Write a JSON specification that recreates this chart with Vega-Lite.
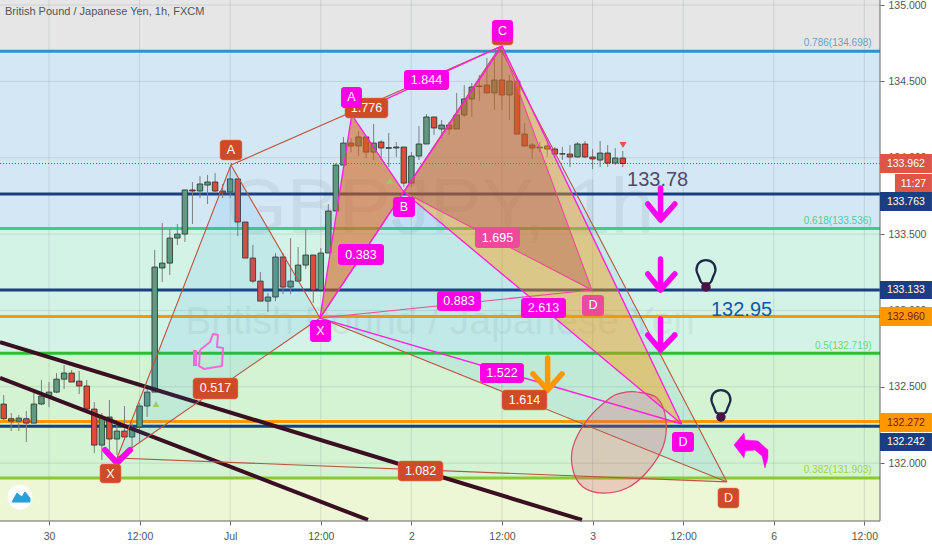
{"$schema":"https://vega.github.io/schema/vega-lite/v6.json","width":880,"height":521,"autosize":"none","padding":{"left":0,"top":0,"right":52,"bottom":29},"background":"#ffffff","config":{"view":{"stroke":null},"text":{"font":"Liberation Sans"}},
"encoding":{"x":{"field":"h","type":"quantitative","title":null,"scale":{"domain":[-6.49,110.07],"nice":false,"zero":false,"padding":0},"axis":{"values":[0,12,24,36,48,60,72,84,96,108],"grid":false,"domain":false,"labelExpr":"datum.value==0?'30':datum.value==24?'Jul':datum.value==48?'2':datum.value==72?'3':datum.value==96?'6':'12:00'","labelFont":"Liberation Sans","labelFontSize":10.5,"labelColor":"#555555","tickColor":"#666666","tickSize":4,"labelPadding":6,"labelOverlap":false}},"y":{"field":"p","type":"quantitative","title":null,"scale":{"domain":[131.621,135.033],"nice":false,"zero":false,"padding":0},"axis":{"orient":"right","values":[132,132.5,133,133.5,134,134.5,135],"format":".3f","grid":false,"domain":false,"labelFont":"Liberation Sans","labelFontSize":10.5,"labelColor":"#555555","tickColor":"#666666","tickSize":4,"labelPadding":4,"labelOverlap":false}}},
"layer":[
{"data":{"values":[{"h":-6.49,"h2":110.07,"p":135.033,"p2":134.698}]},"mark":{"type":"rect","fill":"#e6e6e6"},"encoding":{"x2":{"field":"h2"},"y2":{"field":"p2"}}},
{"data":{"values":[{"h":-6.49,"h2":110.07,"p":134.698,"p2":133.536}]},"mark":{"type":"rect","fill":"#d3e8f4"},"encoding":{"x2":{"field":"h2"},"y2":{"field":"p2"}}},
{"data":{"values":[{"h":-6.49,"h2":110.07,"p":133.536,"p2":132.719}]},"mark":{"type":"rect","fill":"#d4f3e7"},"encoding":{"x2":{"field":"h2"},"y2":{"field":"p2"}}},
{"data":{"values":[{"h":-6.49,"h2":110.07,"p":132.719,"p2":131.903}]},"mark":{"type":"rect","fill":"#d3f3d3"},"encoding":{"x2":{"field":"h2"},"y2":{"field":"p2"}}},
{"data":{"values":[{"h":-6.49,"h2":110.07,"p":131.903,"p2":131.621}]},"mark":{"type":"rect","fill":"#edf6d5"},"encoding":{"x2":{"field":"h2"},"y2":{"field":"p2"}}},
{"data":{"values":[{"h":-6.49,"h2":110.07,"p":135},{"h":-6.49,"h2":110.07,"p":134.5},{"h":-6.49,"h2":110.07,"p":134},{"h":-6.49,"h2":110.07,"p":133.5},{"h":-6.49,"h2":110.07,"p":133},{"h":-6.49,"h2":110.07,"p":132.5},{"h":-6.49,"h2":110.07,"p":132}]},"mark":{"type":"rule","stroke":"#6f8088","strokeOpacity":0.2,"strokeWidth":1},"encoding":{"x2":{"field":"h2"}}},
{"data":{"values":[{"h":0,"p":135.033,"p2":131.621},{"h":12,"p":135.033,"p2":131.621},{"h":24,"p":135.033,"p2":131.621},{"h":36,"p":135.033,"p2":131.621},{"h":48,"p":135.033,"p2":131.621},{"h":60,"p":135.033,"p2":131.621},{"h":72,"p":135.033,"p2":131.621},{"h":84,"p":135.033,"p2":131.621},{"h":96,"p":135.033,"p2":131.621},{"h":108,"p":135.033,"p2":131.621}]},"mark":{"type":"rule","stroke":"#6f8088","strokeOpacity":0.2,"strokeWidth":1},"encoding":{"y2":{"field":"p2"}}},
{"data":{"values":[{"h":51.8,"p":133.658,"t":"GBPJPY, 1h"}]},"mark":{"type":"text","font":"Liberation Sans","fontSize":78,"fill":"#50606a","opacity":0.09,"align":"center","baseline":"middle"},"encoding":{"text":{"field":"t"}}},
{"data":{"values":[{"h":51.8,"p":132.924,"t":"British Pound / Japanese Yen"}]},"mark":{"type":"text","font":"Liberation Sans","fontSize":39,"fill":"#50606a","opacity":0.08,"align":"center","baseline":"middle"},"encoding":{"text":{"field":"t"}}},
{"data":{"values":[{"h":-6.49,"h2":110.07,"p":134.698}]},"mark":{"type":"rule","stroke":"#2f93c6","strokeWidth":3},"encoding":{"x2":{"field":"h2"}}},
{"data":{"values":[{"h":-6.49,"h2":110.07,"p":133.536}]},"mark":{"type":"rule","stroke":"#3ecf78","strokeWidth":3},"encoding":{"x2":{"field":"h2"}}},
{"data":{"values":[{"h":-6.49,"h2":110.07,"p":132.719}]},"mark":{"type":"rule","stroke":"#2bc02b","strokeWidth":3},"encoding":{"x2":{"field":"h2"}}},
{"data":{"values":[{"h":-6.49,"h2":110.07,"p":131.903}]},"mark":{"type":"rule","stroke":"#8cc832","strokeWidth":3},"encoding":{"x2":{"field":"h2"}}},
{"data":{"values":[{"h":-6.49,"h2":110.07,"p":132.96},{"h":-6.49,"h2":110.07,"p":132.272}]},"mark":{"type":"rule","stroke":"#ff9800","strokeWidth":3},"encoding":{"x2":{"field":"h2"}}},
{"data":{"values":[{"h":-6.49,"h2":110.07,"p":133.763},{"h":-6.49,"h2":110.07,"p":133.133},{"h":-6.49,"h2":110.07,"p":132.242}]},"mark":{"type":"rule","stroke":"#1a3f80","strokeWidth":3},"encoding":{"x2":{"field":"h2"}}},
{"data":{"values":[{"h":-6.49,"h2":110.07,"p":133.962}]},"mark":{"type":"rule","stroke":"#c0392b","strokeWidth":1,"strokeDash":[1,2]},"encoding":{"x2":{"field":"h2"}}},
{"data":{"name":"candles","values":[
{"h":-6,"o":132.387,"c":132.291,"p":132.446,"p2":132.282},{"h":-5,"o":132.291,"c":132.275,"p":132.328,"p2":132.21},{"h":-4,"o":132.275,"c":132.295,"p":132.315,"p2":132.21},{"h":-3,"o":132.291,"c":132.262,"p":132.341,"p2":132.138},{"h":-2,"o":132.262,"c":132.387,"p":132.479,"p2":132.262},{"h":-1,"o":132.387,"c":132.439,"p":132.544,"p2":132.38},{"h":0,"o":132.439,"c":132.465,"p":132.531,"p2":132.367},{"h":1,"o":132.465,"c":132.55,"p":132.59,"p2":132.459},{"h":2,"o":132.55,"c":132.59,"p":132.642,"p2":132.485},{"h":3,"o":132.59,"c":132.531,"p":132.61,"p2":132.531},{"h":4,"o":132.537,"c":132.505,"p":132.603,"p2":132.452},{"h":5,"o":132.505,"c":132.354,"p":132.544,"p2":132.334},{"h":6,"o":132.354,"c":132.118,"p":132.4,"p2":132.066},{"h":7,"o":132.118,"c":132.302,"p":132.328,"p2":132.02},{"h":8,"o":132.302,"c":132.158,"p":132.413,"p2":132.072},{"h":9,"o":132.158,"c":132.21,"p":132.282,"p2":132.053},{"h":10,"o":132.21,"c":132.171,"p":132.374,"p2":132.151},{"h":11,"o":132.171,"c":132.236,"p":132.262,"p2":132.105},{"h":12,"o":132.236,"c":132.374,"p":132.393,"p2":132.131},{"h":13,"o":132.374,"c":132.465,"p":132.511,"p2":132.302},{"h":14,"o":132.465,"c":133.284,"p":133.396,"p2":132.465},{"h":15,"o":133.278,"c":133.31,"p":133.572,"p2":133.186},{"h":16,"o":133.31,"c":133.474,"p":133.533,"p2":133.232},{"h":17,"o":133.474,"c":133.5,"p":133.566,"p2":133.428},{"h":18,"o":133.5,"c":133.789,"p":133.789,"p2":133.448},{"h":19,"o":133.789,"c":133.782,"p":133.841,"p2":133.566},{"h":20,"o":133.782,"c":133.828,"p":133.88,"p2":133.736},{"h":21,"o":133.821,"c":133.841,"p":133.887,"p2":133.697},{"h":22,"o":133.841,"c":133.782,"p":133.9,"p2":133.775},{"h":23,"o":133.782,"c":133.769,"p":133.828,"p2":133.736},{"h":24,"o":133.775,"c":133.861,"p":133.939,"p2":133.736},{"h":25,"o":133.861,"c":133.579,"p":133.861,"p2":133.487},{"h":26,"o":133.579,"c":133.343,"p":133.579,"p2":133.343},{"h":27,"o":133.343,"c":133.192,"p":133.428,"p2":133.179},{"h":28,"o":133.192,"c":133.061,"p":133.251,"p2":133.061},{"h":29,"o":133.061,"c":133.088,"p":133.114,"p2":132.989},{"h":30,"o":133.088,"c":133.35,"p":133.376,"p2":133.061},{"h":31,"o":133.35,"c":133.153,"p":133.376,"p2":133.107},{"h":32,"o":133.153,"c":133.192,"p":133.474,"p2":133.107},{"h":33,"o":133.192,"c":133.297,"p":133.415,"p2":133.186},{"h":34,"o":133.297,"c":133.363,"p":133.533,"p2":133.271},{"h":35,"o":133.363,"c":133.133,"p":133.363,"p2":133.048},{"h":36,"o":133.133,"c":133.376,"p":133.409,"p2":133.133},{"h":37,"o":133.376,"c":133.651,"p":133.697,"p2":133.376},{"h":38,"o":133.651,"c":133.952,"p":133.965,"p2":133.651},{"h":39,"o":133.952,"c":134.096,"p":134.136,"p2":133.952},{"h":40,"o":134.096,"c":134.077,"p":134.129,"p2":134.037},{"h":41,"o":134.077,"c":134.136,"p":134.175,"p2":134.011},{"h":42,"o":134.136,"c":134.037,"p":134.136,"p2":133.998},{"h":43,"o":134.037,"c":134.096,"p":134.221,"p2":133.985},{"h":44,"o":134.103,"c":134.064,"p":134.116,"p2":133.985},{"h":45,"o":134.066,"c":134.062,"p":134.162,"p2":133.939},{"h":46,"o":134.07,"c":134.064,"p":134.103,"p2":134.005},{"h":47,"o":134.07,"c":133.834,"p":134.07,"p2":133.808},{"h":48,"o":133.834,"c":134.011,"p":134.037,"p2":133.808},{"h":49,"o":134.011,"c":134.09,"p":134.208,"p2":133.985},{"h":50,"o":134.09,"c":134.267,"p":134.286,"p2":134.09},{"h":51,"o":134.267,"c":134.195,"p":134.267,"p2":134.149},{"h":52,"o":134.188,"c":134.214,"p":134.247,"p2":134.129},{"h":53,"o":134.214,"c":134.188,"p":134.234,"p2":134.149},{"h":54,"o":134.188,"c":134.28,"p":134.424,"p2":134.188},{"h":55,"o":134.28,"c":134.385,"p":134.476,"p2":134.267},{"h":56,"o":134.385,"c":134.463,"p":134.489,"p2":134.267},{"h":57,"o":134.47,"c":134.466,"p":134.542,"p2":134.371},{"h":58,"o":134.476,"c":134.424,"p":134.653,"p2":134.424},{"h":59,"o":134.424,"c":134.509,"p":134.653,"p2":134.313},{"h":60,"o":134.509,"c":134.411,"p":134.706,"p2":134.313},{"h":61,"o":134.411,"c":134.502,"p":134.542,"p2":134.247},{"h":62,"o":134.502,"c":134.155,"p":134.502,"p2":134.155},{"h":63,"o":134.155,"c":134.077,"p":134.227,"p2":134.07},{"h":64,"o":134.083,"c":134.064,"p":134.096,"p2":133.992},{"h":65,"o":134.064,"c":134.07,"p":134.103,"p2":134.037},{"h":66,"o":134.077,"c":134.057,"p":134.096,"p2":134.005},{"h":67,"o":134.057,"c":134.024,"p":134.07,"p2":134.005},{"h":68,"o":134.024,"c":134.026,"p":134.07,"p2":133.985},{"h":69,"o":134.024,"c":134.005,"p":134.083,"p2":133.939},{"h":70,"o":134.005,"c":134.09,"p":134.103,"p2":133.998},{"h":71,"o":134.09,"c":134.005,"p":134.109,"p2":133.998},{"h":72,"o":134.005,"c":133.992,"p":134.057,"p2":133.926},{"h":73,"o":133.985,"c":134.031,"p":134.109,"p2":133.939},{"h":74,"o":134.031,"c":133.965,"p":134.083,"p2":133.939},{"h":75,"o":133.965,"c":133.998,"p":134.063,"p2":133.952},{"h":76,"o":133.998,"c":133.962,"p":134.044,"p2":133.939}]},"mark":{"type":"rule","stroke":"#7d7d7d","strokeWidth":1},"encoding":{"y2":{"field":"p2"}}},
{"data":{"name":"candles"},"mark":{"type":"bar","size":5.5,"stroke":"#26302c","strokeWidth":0.8},"encoding":{"y":{"field":"o","type":"quantitative","title":null,"scale":{"domain":[131.621,135.033],"nice":false,"zero":false,"padding":0}},"y2":{"field":"c"},"color":{"condition":{"test":"datum.c<datum.o","value":"#e04a3a"},"value":"#5f9a80"}}},
{"data":{"values":[{"i":0,"h":-6.49,"p":132.793},{"i":1,"h":70.6,"p":131.628}]},"mark":{"type":"line","stroke":"#3a0f22","strokeWidth":4},"encoding":{"order":{"field":"i"}}},
{"data":{"values":[{"i":0,"h":-6.49,"p":132.558},{"i":1,"h":42.25,"p":131.628}]},"mark":{"type":"line","stroke":"#3a0f22","strokeWidth":4},"encoding":{"order":{"field":"i"}}},
{"data":{"values":[{"i":0,"h":9.01,"p":132.034},{"i":1,"h":24.1,"p":133.952},{"i":2,"h":35.9,"p":132.95},{"i":3,"h":9.01,"p":132.034}]},"mark":{"type":"line","fill":"#2196f3","fillOpacity":0.1,"strokeWidth":0},"encoding":{"order":{"field":"i"}}},
{"data":{"values":[{"i":0,"h":35.9,"p":132.95},{"i":1,"h":59.7,"p":134.725},{"i":2,"h":89.8,"p":131.877},{"i":3,"h":35.9,"p":132.95}]},"mark":{"type":"line","fill":"#2196f3","fillOpacity":0.1,"strokeWidth":0},"encoding":{"order":{"field":"i"}}},
{"data":{"values":[{"i":0,"h":35.9,"p":132.95},{"i":1,"h":40.1,"p":134.28},{"i":2,"h":47,"p":133.776},{"i":3,"h":35.9,"p":132.95}]},"mark":{"type":"line","fill":"#ff9800","fillOpacity":0.42,"strokeWidth":0},"encoding":{"order":{"field":"i"}}},
{"data":{"values":[{"i":0,"h":47,"p":133.776},{"i":1,"h":60,"p":134.732},{"i":2,"h":83.8,"p":132.256},{"i":3,"h":47,"p":133.776}]},"mark":{"type":"line","fill":"#ff9800","fillOpacity":0.42,"strokeWidth":0},"encoding":{"order":{"field":"i"}}},
{"data":{"values":[{"i":0,"h":35.9,"p":132.95},{"i":1,"h":40.1,"p":134.28},{"i":2,"h":47,"p":133.776},{"i":3,"h":35.9,"p":132.95}]},"mark":{"type":"line","fill":"#a5283a","fillOpacity":0.28,"strokeWidth":0},"encoding":{"order":{"field":"i"}}},
{"data":{"values":[{"i":0,"h":47,"p":133.776},{"i":1,"h":60,"p":134.732},{"i":2,"h":71.9,"p":133.134},{"i":3,"h":47,"p":133.776}]},"mark":{"type":"line","fill":"#a5283a","fillOpacity":0.28,"strokeWidth":0},"encoding":{"order":{"field":"i"}}},
{"data":{"values":[{"i":0,"h":77.88,"p":132.466},{"i":1,"h":80.53,"p":132.427},{"i":2,"h":81.72,"p":132.282},{"i":3,"h":81.32,"p":132.106},{"i":4,"h":79.2,"p":131.942},{"i":5,"h":76.56,"p":131.837},{"i":6,"h":73.38,"p":131.804},{"i":7,"h":70.73,"p":131.844},{"i":8,"h":69.4,"p":131.955},{"i":9,"h":69.4,"p":132.106},{"i":10,"h":71.26,"p":132.282},{"i":11,"h":74.3,"p":132.427},{"i":12,"h":75.9,"p":132.46}]},"mark":{"type":"line","interpolate":"cardinal-closed","fill":"#e0506a","fillOpacity":0.25,"stroke":"#d8486a","strokeWidth":1.2},"encoding":{"order":{"field":"i"}}},
{"data":{"values":[{"i":0,"h":9.01,"p":132.034},{"i":1,"h":24.1,"p":133.952},{"i":2,"h":35.9,"p":132.95},{"i":3,"h":9.01,"p":132.034},{"i":4,"h":89.8,"p":131.877},{"i":5,"h":35.9,"p":132.95},{"i":6,"h":59.7,"p":134.725},{"i":7,"h":89.8,"p":131.877},{"i":8,"h":59.7,"p":134.725},{"i":9,"h":24.1,"p":133.952}]},"mark":{"type":"line","stroke":"#bb5540","strokeWidth":1.1},"encoding":{"order":{"field":"i"}}},
{"data":{"values":[{"i":0,"h":35.9,"p":132.95},{"i":1,"h":71.9,"p":133.134},{"i":2,"h":47,"p":133.776},{"i":3,"h":60,"p":134.732},{"i":4,"h":71.9,"p":133.134}]},"mark":{"type":"line","stroke":"#ec4b9a","strokeWidth":1.1},"encoding":{"order":{"field":"i"}}},
{"data":{"values":[{"i":0,"h":35.9,"p":132.95},{"i":1,"h":40.1,"p":134.28},{"i":2,"h":47,"p":133.776},{"i":3,"h":35.9,"p":132.95},{"i":4,"h":83.8,"p":132.256},{"i":5,"h":47,"p":133.776},{"i":6,"h":60,"p":134.732},{"i":7,"h":83.8,"p":132.256},{"i":8,"h":60,"p":134.732},{"i":9,"h":40.1,"p":134.28}]},"mark":{"type":"line","stroke":"#ff22dd","strokeWidth":1.4},"encoding":{"order":{"field":"i"}}},
{"data":{"values":[{"h":-6.49,"h2":110.07,"p":131.621}]},"mark":{"type":"rule","stroke":"#666666","strokeWidth":1},"encoding":{"x2":{"field":"h2"}}},
{"data":{"values":[{"h":110.07,"p":135.033,"p2":131.621}]},"mark":{"type":"rule","stroke":"#666666","strokeWidth":1},"encoding":{"y2":{"field":"p2"}}},
{"data":{"values":[{"a":"1","i":0,"h":81,"p":133.802},{"a":"1","i":1,"h":81,"p":133.592},{"a":"1","i":2,"h":79.3,"p":133.697},{"a":"1","i":3,"h":81,"p":133.592},{"a":"1","i":4,"h":82.9,"p":133.697},{"a":"2","i":0,"h":81,"p":133.337},{"a":"2","i":1,"h":81,"p":133.134},{"a":"2","i":2,"h":79.3,"p":133.239},{"a":"2","i":3,"h":81,"p":133.134},{"a":"2","i":4,"h":82.9,"p":133.239},{"a":"3","i":0,"h":81,"p":132.944},{"a":"3","i":1,"h":81,"p":132.741},{"a":"3","i":2,"h":79.3,"p":132.839},{"a":"3","i":3,"h":81,"p":132.741},{"a":"3","i":4,"h":82.9,"p":132.839}]},"mark":{"type":"line","stroke":"#ff00ee","strokeWidth":5.5,"strokeCap":"round","strokeJoin":"round"},"encoding":{"detail":{"field":"a"},"order":{"field":"i"}}},
{"data":{"values":[{"i":0,"h":66.05,"p":132.689},{"i":1,"h":66.05,"p":132.479},{"i":2,"h":64.1,"p":132.584},{"i":3,"h":66.05,"p":132.479},{"i":4,"h":67.95,"p":132.584}]},"mark":{"type":"line","stroke":"#ff9800","strokeWidth":5.5,"strokeCap":"round","strokeJoin":"round"},"encoding":{"order":{"field":"i"}}},
{"data":{"values":[{"i":0,"h":7.42,"p":132.086},{"i":1,"h":9.01,"p":132.001},{"i":2,"h":10.73,"p":132.086}]},"mark":{"type":"line","stroke":"#ff00ee","strokeWidth":6,"strokeCap":"round","strokeJoin":"round"},"encoding":{"order":{"field":"i"}}},
{"data":{"values":[{"i":0,"h":20,"p":132.741},{"i":1,"h":21.32,"p":132.793},{"i":2,"h":21.72,"p":132.846},{"i":3,"h":22.38,"p":132.839},{"i":4,"h":22.25,"p":132.761},{"i":5,"h":23.05,"p":132.754},{"i":6,"h":22.91,"p":132.636},{"i":7,"h":20.53,"p":132.617},{"i":8,"h":19.87,"p":132.636},{"i":9,"h":20,"p":132.741}]},"mark":{"type":"line","stroke":"#f26ad8","strokeWidth":2,"strokeJoin":"round"},"encoding":{"order":{"field":"i"}}},
{"data":{"values":[{"i":0,"h":19.34,"p":132.741},{"i":1,"h":19.34,"p":132.636}]},"mark":{"type":"line","stroke":"#f26ad8","strokeWidth":4},"encoding":{"order":{"field":"i"}}},
{"data":{"values":[{"i":0,"h":90.73,"p":132.119},{"i":1,"h":92.05,"p":132.197},{"i":2,"h":92.19,"p":132.152},{"i":3,"h":93.9,"p":132.145},{"i":4,"h":95.23,"p":132.086},{"i":5,"h":95.23,"p":132.034},{"i":6,"h":94.83,"p":131.968},{"i":7,"h":94.44,"p":132.047},{"i":8,"h":93.51,"p":132.086},{"i":9,"h":92.19,"p":132.079},{"i":10,"h":92.05,"p":132.034},{"i":11,"h":90.73,"p":132.119}]},"mark":{"type":"line","fill":"#ff00ee","stroke":"#ff00ee","strokeWidth":0.5},"encoding":{"order":{"field":"i"}}},
{"data":{"values":[{"b":"1","i":0,"h":87.02,"p":133.33},{"b":"1","i":1,"h":87.95,"p":133.311},{"b":"1","i":2,"h":88.28,"p":133.265},{"b":"1","i":3,"h":87.95,"p":133.219},{"b":"1","i":4,"h":87.55,"p":133.18},{"b":"1","i":5,"h":86.49,"p":133.18},{"b":"1","i":6,"h":86.09,"p":133.219},{"b":"1","i":7,"h":85.76,"p":133.265},{"b":"1","i":8,"h":86.09,"p":133.311},{"b":"2","i":0,"h":89,"p":132.478},{"b":"2","i":1,"h":89.93,"p":132.459},{"b":"2","i":2,"h":90.26,"p":132.413},{"b":"2","i":3,"h":89.93,"p":132.367},{"b":"2","i":4,"h":89.53,"p":132.328},{"b":"2","i":5,"h":88.47,"p":132.328},{"b":"2","i":6,"h":88.07,"p":132.367},{"b":"2","i":7,"h":87.74,"p":132.413},{"b":"2","i":8,"h":88.07,"p":132.459}]},"mark":{"type":"line","interpolate":"cardinal-closed","stroke":"#1c2b45","strokeWidth":2.3},"encoding":{"detail":{"field":"b"},"order":{"field":"i"}}},
{"data":{"values":[{"h":87.02,"p":133.154},{"h":89,"p":132.302}]},"mark":{"type":"point","shape":"circle","size":90,"filled":true,"fill":"#4a1245","opacity":1}},
{"data":{"values":[{"h":-3.84,"p":131.778}]},"mark":{"type":"point","shape":"circle","size":615,"filled":true,"fill":"#ffffff","opacity":1}},
{"data":{"values":[{"i":0,"h":-4.9,"p":131.745},{"i":1,"h":-4.24,"p":131.804},{"i":2,"h":-3.58,"p":131.778},{"i":3,"h":-3.18,"p":131.811},{"i":4,"h":-2.52,"p":131.772},{"i":5,"h":-2.52,"p":131.745},{"i":6,"h":-4.9,"p":131.745}]},"mark":{"type":"line","fill":"#2a9fd6","stroke":"#2a9fd6","strokeWidth":1},"encoding":{"order":{"field":"i"}}},
{"data":{"values":[{"h":14.17,"p":132.387},{"h":45.17,"p":133.848}]},"mark":{"type":"point","shape":"triangle-up","size":45,"filled":true,"fill":"#9ccc65","opacity":1}},
{"data":{"values":[{"h":76.03,"p":134.083}]},"mark":{"type":"point","shape":"triangle-down","size":50,"filled":true,"fill":"#e0554a","opacity":1}},
{"data":{"name":"redBoxes","values":[{"h":22.65,"h2":25.56,"p":134.116,"p2":133.985,"cx":24.1,"cy":134.05,"t":"A"},{"h":19.07,"h2":25.03,"p":132.558,"p2":132.42,"cx":22.05,"cy":132.489,"t":"0.517"},{"h":6.75,"h2":9.54,"p":131.994,"p2":131.87,"cx":8.15,"cy":131.932,"t":"X"},{"h":39.2,"h2":44.9,"p":134.391,"p2":134.26,"cx":42.05,"cy":134.325,"t":"1.776"},{"h":60,"h2":65.96,"p":132.479,"p2":132.348,"cx":62.98,"cy":132.413,"t":"1.614"},{"h":46.23,"h2":52.19,"p":132.014,"p2":131.883,"cx":49.21,"cy":131.948,"t":"1.082"},{"h":88.6,"h2":91.39,"p":131.837,"p2":131.706,"cx":90,"cy":131.771,"t":"D"},{"h":58.68,"h2":61.46,"p":134.869,"p2":134.738,"cx":60.07,"cy":134.803,"t":""}]},"mark":{"type":"rect","fill":"#cf4a28","stroke":"#e08060","strokeWidth":0.5,"cornerRadius":3},"encoding":{"x2":{"field":"h2"},"y2":{"field":"p2"}}},
{"data":{"name":"redBoxes"},"mark":{"type":"text","fill":"#ffffff","font":"Liberation Sans","fontSize":12.5,"align":"center","baseline":"middle"},"encoding":{"x":{"field":"cx","type":"quantitative"},"y":{"field":"cy","type":"quantitative"},"text":{"field":"t"}}},
{"data":{"name":"pinkBoxes","values":[{"h":56.42,"h2":62.38,"p":133.54,"p2":133.409,"cx":59.4,"cy":133.475,"t":"1.695"},{"h":70.6,"h2":73.51,"p":133.101,"p2":132.964,"cx":72.05,"cy":133.033,"t":"D"}]},"mark":{"type":"rect","fill":"#ee4a9c","cornerRadius":3},"encoding":{"x2":{"field":"h2"},"y2":{"field":"p2"}}},
{"data":{"name":"pinkBoxes"},"mark":{"type":"text","fill":"#ffffff","font":"Liberation Sans","fontSize":12.5,"align":"center","baseline":"middle"},"encoding":{"x":{"field":"cx","type":"quantitative"},"y":{"field":"cy","type":"quantitative"},"text":{"field":"t"}}},
{"data":{"name":"magBoxes","values":[{"h":38.68,"h2":41.46,"p":134.463,"p2":134.326,"cx":40.07,"cy":134.395,"t":"A"},{"h":58.68,"h2":61.46,"p":134.902,"p2":134.764,"cx":60.07,"cy":134.833,"t":"C"},{"h":47.02,"h2":52.98,"p":134.575,"p2":134.444,"cx":50,"cy":134.51,"t":"1.844"},{"h":45.56,"h2":48.48,"p":133.743,"p2":133.612,"cx":47.02,"cy":133.678,"t":"B"},{"h":34.57,"h2":37.35,"p":132.937,"p2":132.793,"cx":35.96,"cy":132.865,"t":"X"},{"h":38.28,"h2":44.37,"p":133.435,"p2":133.298,"cx":41.32,"cy":133.366,"t":"0.383"},{"h":51.39,"h2":57.22,"p":133.127,"p2":132.996,"cx":54.3,"cy":133.062,"t":"0.883"},{"h":62.52,"h2":68.48,"p":133.081,"p2":132.95,"cx":65.5,"cy":133.015,"t":"2.613"},{"h":57.09,"h2":62.91,"p":132.656,"p2":132.525,"cx":60,"cy":132.59,"t":"1.522"},{"h":82.52,"h2":85.43,"p":132.204,"p2":132.073,"cx":83.97,"cy":132.138,"t":"D"}]},"mark":{"type":"rect","fill":"#ff00e6","cornerRadius":3},"encoding":{"x2":{"field":"h2"},"y2":{"field":"p2"}}},
{"data":{"name":"magBoxes"},"mark":{"type":"text","fill":"#ffffff","font":"Liberation Sans","fontSize":12.5,"align":"center","baseline":"middle"},"encoding":{"x":{"field":"cx","type":"quantitative"},"y":{"field":"cy","type":"quantitative"},"text":{"field":"t"}}},
{"data":{"values":[{"h":-5.83,"p":134.954,"t":"British Pound / Japanese Yen, 1h, FXCM"}]},"mark":{"type":"text","font":"Liberation Sans","fontSize":11,"fill":"#555555","align":"left","baseline":"middle"},"encoding":{"text":{"field":"t"}}},
{"data":{"values":[{"h":108.96,"p":134.751,"t":"0.786(134.698)"}]},"mark":{"type":"text","font":"Liberation Sans","fontSize":10,"fill":"#6b9fc4","align":"right","baseline":"middle"},"encoding":{"text":{"field":"t"}}},
{"data":{"values":[{"h":108.96,"p":133.586,"t":"0.618(133.536)"}]},"mark":{"type":"text","font":"Liberation Sans","fontSize":10,"fill":"#55c9a0","align":"right","baseline":"middle"},"encoding":{"text":{"field":"t"}}},
{"data":{"values":[{"h":108.96,"p":132.767,"t":"0.5(132.719)"}]},"mark":{"type":"text","font":"Liberation Sans","fontSize":10,"fill":"#6ed67a","align":"right","baseline":"middle"},"encoding":{"text":{"field":"t"}}},
{"data":{"values":[{"h":108.96,"p":131.955,"t":"0.382(131.903)"}]},"mark":{"type":"text","font":"Liberation Sans","fontSize":10,"fill":"#a6d14c","align":"right","baseline":"middle"},"encoding":{"text":{"field":"t"}}},
{"data":{"values":[{"h":76.56,"p":133.854,"t":"133.78"}]},"mark":{"type":"text","font":"Liberation Sans","fontSize":20,"fill":"#4b4b6b","align":"left","baseline":"middle"},"encoding":{"text":{"field":"t"}}},
{"data":{"values":[{"h":87.68,"p":133.003,"t":"132.95"}]},"mark":{"type":"text","font":"Liberation Sans","fontSize":20,"fill":"#0f5aa8","align":"left","baseline":"middle"},"encoding":{"text":{"field":"t"}}},
{"data":{"values":[{"h":110.07,"h2":116.95,"p":134.024,"p2":133.9}]},"mark":{"type":"rect","fill":"#dd5548"},"encoding":{"x2":{"field":"h2"},"y2":{"field":"p2"}}},
{"data":{"values":[{"h":112.05,"h2":116.95,"p":133.893,"p2":133.769}]},"mark":{"type":"rect","fill":"#dd5548"},"encoding":{"x2":{"field":"h2"},"y2":{"field":"p2"}}},
{"data":{"values":[{"h":110.07,"h2":116.95,"p":133.776,"p2":133.651},{"h":110.07,"h2":116.95,"p":133.193,"p2":133.075},{"h":110.07,"h2":116.95,"p":132.197,"p2":132.079}]},"mark":{"type":"rect","fill":"#1a3f80"},"encoding":{"x2":{"field":"h2"},"y2":{"field":"p2"}}},
{"data":{"values":[{"h":110.07,"h2":116.95,"p":133.022,"p2":132.898},{"h":110.07,"h2":116.95,"p":132.328,"p2":132.204}]},"mark":{"type":"rect","fill":"#ff9800"},"encoding":{"x2":{"field":"h2"},"y2":{"field":"p2"}}},
{"data":{"values":[{"h":113.5,"p":133.962,"t":"133.962"},{"h":114.5,"p":133.831,"t":"11:27"},{"h":113.5,"p":133.713,"t":"133.763"},{"h":113.5,"p":133.134,"t":"133.133"},{"h":113.5,"p":132.138,"t":"132.242"}]},"mark":{"type":"text","font":"Liberation Sans","fontSize":10.5,"fill":"#ffffff","align":"center","baseline":"middle"},"encoding":{"text":{"field":"t"}}},
{"data":{"values":[{"h":113.5,"p":132.96,"t":"132.960"},{"h":113.5,"p":132.266,"t":"132.272"}]},"mark":{"type":"text","font":"Liberation Sans","fontSize":10.5,"fill":"#7a1500","align":"center","baseline":"middle"},"encoding":{"text":{"field":"t"}}}
]}
